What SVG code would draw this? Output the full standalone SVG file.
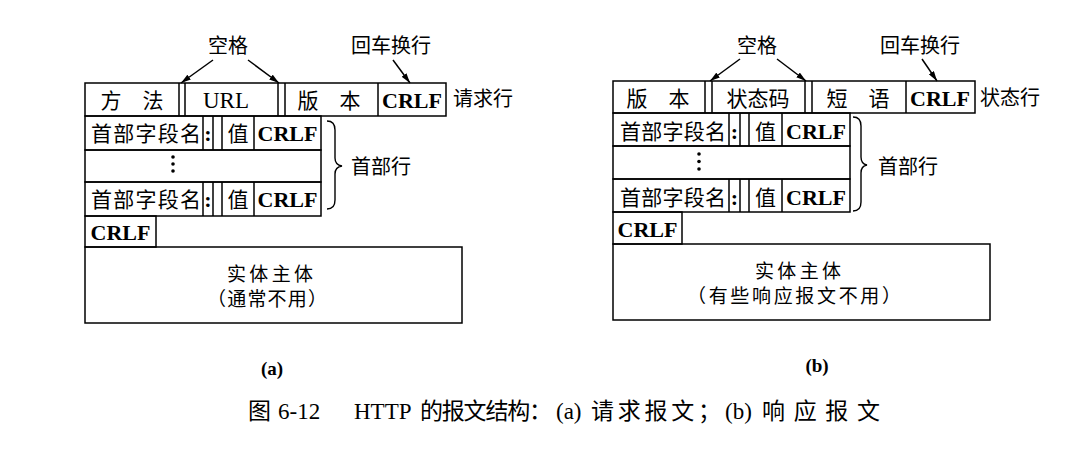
<svg xmlns="http://www.w3.org/2000/svg" width="1084" height="450" viewBox="0 0 1084 450">
<defs>
<style>
.box{fill:none;stroke:#000;stroke-width:1.5}
.ln{stroke:#000;stroke-width:1.5}
.cn{font-family:"Noto Sans CJK SC",sans-serif;font-size:21px;fill:#000}
.cl{font-family:"Noto Sans CJK SC",sans-serif;font-size:20px;fill:#000}
.bt{font-family:"Noto Sans CJK SC",sans-serif;font-size:19px;fill:#000}
.en{font-family:"Liberation Serif",serif;font-size:23px;fill:#000}
.bd{font-family:"Liberation Serif",serif;font-size:22px;font-weight:bold;fill:#000}
.lab{font-family:"Liberation Serif",serif;font-size:19px;font-weight:bold;fill:#000}
.cap{font-family:"Noto Sans CJK SC",sans-serif;font-size:23px;fill:#000}
.capl{font-family:"Liberation Serif",serif;font-size:23px;fill:#000}
.arr{stroke:#000;stroke-width:1.5;fill:none;marker-end:url(#ah)}
.brace{fill:none;stroke:#000;stroke-width:1.4}
</style>
<marker id="ah" viewBox="0 0 10 6" refX="10" refY="3" markerWidth="10" markerHeight="6" orient="auto" markerUnits="userSpaceOnUse"><path d="M0,0 L10,3 L0,6 z" fill="#000"/></marker>
</defs>
<rect width="1084" height="450" fill="#fff"/>

<!-- (a) request message -->
<g id="a-labels">
<text class="cl" x="228" y="53" text-anchor="middle">空格</text>
<text class="cl" x="391" y="53" text-anchor="middle">回车换行</text>
<text class="cl" x="453" y="106">请求行</text>
<text class="cl" x="351" y="174">首部行</text>
</g>
<g id="a-requestline">
<rect class="box" x="85" y="83" width="361" height="33"/>
<line class="ln" x1="179" y1="83" x2="179" y2="116"/>
<line class="ln" x1="185" y1="83" x2="185" y2="116"/>
<line class="ln" x1="278" y1="83" x2="278" y2="116"/>
<line class="ln" x1="285" y1="83" x2="285" y2="116"/>
<line class="ln" x1="378" y1="83" x2="378" y2="116"/>
<text class="cn" x="132" y="108" text-anchor="middle">方　法</text>
<text class="en" x="226" y="108" text-anchor="middle">URL</text>
<text class="cn" x="329" y="108" text-anchor="middle">版　本</text>
<text class="bd" x="412" y="108" text-anchor="middle">CRLF</text>
</g>
<g id="a-header1">
<rect class="box" x="85" y="116" width="236" height="34"/>
<line class="ln" x1="203" y1="116" x2="203" y2="150"/>
<line class="ln" x1="213" y1="116" x2="213" y2="150"/>
<line class="ln" x1="222" y1="116" x2="222" y2="150"/>
<line class="ln" x1="254" y1="116" x2="254" y2="150"/>
<text class="cn" x="91" y="141" textLength="110">首部字段名</text>
<text class="bd" x="208" y="141" text-anchor="middle">:</text>
<text class="cn" x="238" y="141" text-anchor="middle">值</text>
<text class="bd" x="287.5" y="141" text-anchor="middle">CRLF</text>
</g>
<g id="a-dots">
<rect class="box" x="85" y="150" width="236" height="32"/>
<circle cx="173" cy="157" r="1.8"/>
<circle cx="173" cy="164" r="1.8"/>
<circle cx="173" cy="171" r="1.8"/>
</g>
<g id="a-header2">
<rect class="box" x="85" y="182" width="236" height="34"/>
<line class="ln" x1="203" y1="182" x2="203" y2="216"/>
<line class="ln" x1="213" y1="182" x2="213" y2="216"/>
<line class="ln" x1="222" y1="182" x2="222" y2="216"/>
<line class="ln" x1="254" y1="182" x2="254" y2="216"/>
<text class="cn" x="91" y="207" textLength="110">首部字段名</text>
<text class="bd" x="208" y="207" text-anchor="middle">:</text>
<text class="cn" x="238" y="207" text-anchor="middle">值</text>
<text class="bd" x="287.5" y="207" text-anchor="middle">CRLF</text>
</g>
<g id="a-crlf">
<rect class="box" x="85" y="216" width="71" height="31"/>
<text class="bd" x="120.5" y="240" text-anchor="middle">CRLF</text>
</g>
<g id="a-body">
<rect class="box" x="85" y="247" width="377" height="76"/>
<text class="bt" x="227" y="281" textLength="86">实体主体</text>
<text class="bt" x="207" y="306" textLength="120">（通常不用）</text>
</g>
<g id="a-connectors">
<line class="arr" x1="213" y1="60" x2="181" y2="83"/>
<line class="arr" x1="248" y1="60" x2="279" y2="83"/>
<line class="arr" x1="393" y1="60" x2="410" y2="83"/>
<path class="brace" d="M327,121 Q335,121 335,130 L335,158 Q335,165 342,166 Q335,167 335,174 L335,200 Q335,209 327,209"/>
</g>

<!-- (b) response message -->
<g id="b-labels">
<text class="cl" x="757" y="53" text-anchor="middle">空格</text>
<text class="cl" x="920" y="53" text-anchor="middle">回车换行</text>
<text class="cl" x="980" y="105" font-size="21">状态行</text>
<text class="cl" x="878" y="174">首部行</text>
</g>
<g id="b-statusline">
<rect class="box" x="613" y="81" width="362" height="32"/>
<line class="ln" x1="705" y1="81" x2="705" y2="113"/>
<line class="ln" x1="712" y1="81" x2="712" y2="113"/>
<line class="ln" x1="805" y1="81" x2="805" y2="113"/>
<line class="ln" x1="812" y1="81" x2="812" y2="113"/>
<line class="ln" x1="906" y1="81" x2="906" y2="113"/>
<text class="cn" x="658" y="106" text-anchor="middle">版　本</text>
<text class="cn" x="758" y="106" text-anchor="middle">状态码</text>
<text class="cn" x="858" y="106" text-anchor="middle">短　语</text>
<text class="bd" x="940" y="106" text-anchor="middle">CRLF</text>
</g>
<g id="b-header1">
<rect class="box" x="613" y="113" width="237" height="33"/>
<line class="ln" x1="729" y1="113" x2="729" y2="146"/>
<line class="ln" x1="740" y1="113" x2="740" y2="146"/>
<line class="ln" x1="749" y1="113" x2="749" y2="146"/>
<line class="ln" x1="782" y1="113" x2="782" y2="146"/>
<text class="cn" x="620" y="139" textLength="106">首部字段名</text>
<text class="bd" x="734.5" y="139" text-anchor="middle">:</text>
<text class="cn" x="765.5" y="139" text-anchor="middle">值</text>
<text class="bd" x="816" y="139" text-anchor="middle">CRLF</text>
</g>
<g id="b-dots">
<rect class="box" x="613" y="146" width="237" height="33"/>
<circle cx="699" cy="154" r="1.8"/>
<circle cx="699" cy="161.5" r="1.8"/>
<circle cx="699" cy="169" r="1.8"/>
</g>
<g id="b-header2">
<rect class="box" x="613" y="179" width="237" height="33"/>
<line class="ln" x1="729" y1="179" x2="729" y2="212"/>
<line class="ln" x1="740" y1="179" x2="740" y2="212"/>
<line class="ln" x1="749" y1="179" x2="749" y2="212"/>
<line class="ln" x1="782" y1="179" x2="782" y2="212"/>
<text class="cn" x="620" y="205" textLength="106">首部字段名</text>
<text class="bd" x="734.5" y="205" text-anchor="middle">:</text>
<text class="cn" x="765.5" y="205" text-anchor="middle">值</text>
<text class="bd" x="816" y="205" text-anchor="middle">CRLF</text>
</g>
<g id="b-crlf">
<rect class="box" x="613" y="212" width="69" height="32"/>
<text class="bd" x="647.5" y="237" text-anchor="middle">CRLF</text>
</g>
<g id="b-body">
<rect class="box" x="613" y="244" width="377" height="76"/>
<text class="bt" x="755" y="278" textLength="86">实体主体</text>
<text class="bt" x="687" y="303" textLength="214">（有些响应报文不用）</text>
</g>
<g id="b-connectors">
<line class="arr" x1="740" y1="59" x2="710" y2="81"/>
<line class="arr" x1="777" y1="59" x2="806" y2="81"/>
<line class="arr" x1="922" y1="59" x2="937" y2="81"/>
<path class="brace" d="M853,117 Q861,117 861,126 L861,157 Q861,164 867,165 Q861,166 861,173 L861,202 Q861,211 853,211"/>
</g>

<g id="captions">
<text class="lab" x="272" y="375" text-anchor="middle">(a)</text>
<text class="lab" x="817" y="372" text-anchor="middle">(b)</text>
<text class="cap" x="248" y="419">图</text>
<text class="capl" x="278" y="419">6-12</text>
<text class="capl" x="354" y="419">HTTP</text>
<text class="cap" x="420" y="419" textLength="132">的报文结构：</text>
<text class="capl" x="556" y="419">(a)</text>
<text class="cap" x="591" y="419" textLength="130">请求报文；</text>
<text class="capl" x="725" y="419">(b)</text>
<text class="cap" x="762" y="419" textLength="118">响应报文</text>
</g>
</svg>
